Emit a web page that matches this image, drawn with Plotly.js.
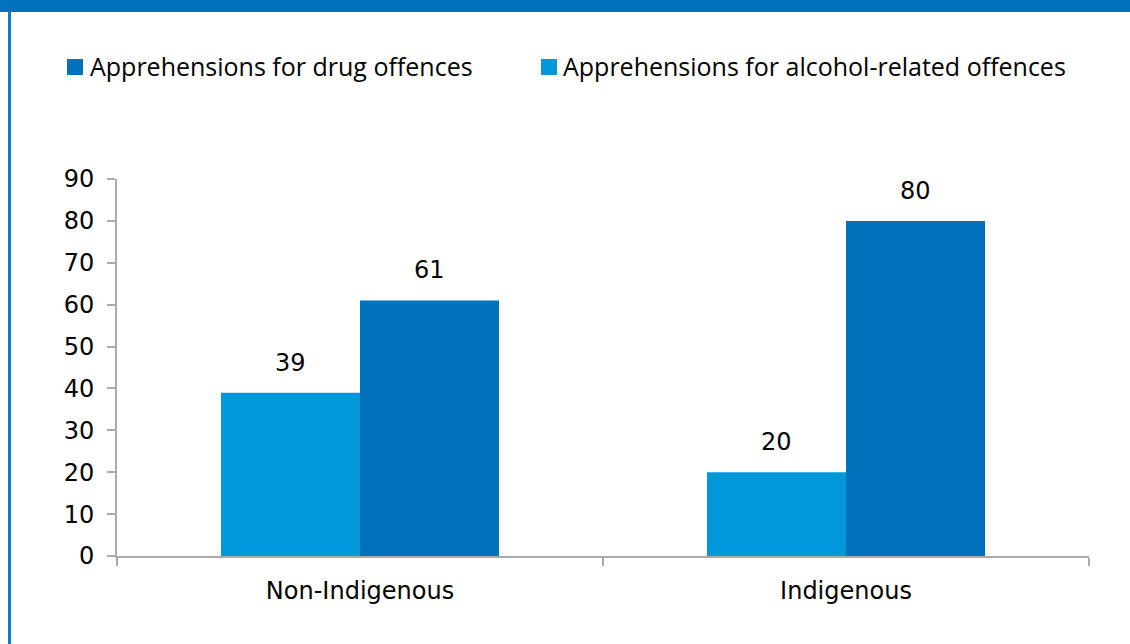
<!DOCTYPE html>
<html>
<head>
<meta charset="utf-8">
<script src="https://cdn.plot.ly/plotly-3.0.1.min.js"></script>
<style>
html,body{margin:0;padding:0;background:#fff;}
#chart{width:1130px;height:644px;}
</style>
</head>
<body>
<div id="chart"></div>
<script>
const categories = ["Non-Indigenous", "Indigenous"];
const alcoholValues = [39, 20];
const drugValues = [61, 80];
const seriesNames = ["Apprehensions for alcohol-related offences", "Apprehensions for drug offences"];
const yTicks = [0, 10, 20, 30, 40, 50, 60, 70, 80, 90];

const colAlcohol = "#0098D8";
const colDrug = "#0071BA";
const frame = "#0071BC";
const numFont = {family: "DejaVu Sans, sans-serif", size: 24, color: "#000"};
const legFont = {family: "Open Sans, sans-serif", size: 25, color: "#000"};

const traces = [
  {type: "bar", name: seriesNames[0], x: categories, y: alcoholValues,
   marker: {color: colAlcohol, line: {width: 0}}, hoverinfo: "none", showlegend: false},
  {type: "bar", name: seriesNames[1], x: categories, y: drugValues,
   marker: {color: colDrug, line: {width: 0}}, hoverinfo: "none", showlegend: false}
];

const W = 1130, H = 644, L = 117, R = 41, T = 179, B = 88;
const pw = W - L - R, ph = H - T - B;
function px(x) { return (x - L) / pw; }
function py(y) { return (H - B - y) / ph; }

const annotations = [];
categories.forEach((c, i) => {
  annotations.push({x: c, y: alcoholValues[i], xref: "x", yref: "y", text: String(alcoholValues[i]),
    showarrow: false, yanchor: "bottom", xshift: -69.5, yshift: 14, font: numFont});
  annotations.push({x: c, y: drugValues[i], xref: "x", yref: "y", text: String(drugValues[i]),
    showarrow: false, yanchor: "bottom", xshift: 69.5, yshift: 14, font: numFont});
});

// manual legend: drug first, then alcohol
const legendItems = [
  {name: seriesNames[1], color: colDrug, sx: 67, tx: 88},
  {name: seriesNames[0], color: colAlcohol, sx: 541, tx: 561}
];
const shapes = [
  {type: "rect", xref: "paper", yref: "paper", x0: px(0), x1: px(W), y0: py(0), y1: py(12),
   fillcolor: frame, line: {width: 0}, layer: "above"},
  {type: "rect", xref: "paper", yref: "paper", x0: px(8), x1: px(11), y0: py(12), y1: py(H),
   fillcolor: "#0A7CC6", line: {width: 0}, layer: "above"}
];
legendItems.forEach(it => {
  shapes.push({type: "rect", xref: "paper", yref: "paper", x0: px(it.sx), x1: px(it.sx + 16),
    y0: py(75), y1: py(59), fillcolor: it.color, line: {width: 0}});
  annotations.push({xref: "paper", yref: "paper", x: px(it.tx), y: py(66), xanchor: "left",
    yanchor: "middle", text: it.name, showarrow: false, font: legFont});
});

const layout = {
  width: W, height: H,
  margin: {l: L, r: R, t: T, b: B, pad: 0},
  paper_bgcolor: "#fff", plot_bgcolor: "#fff",
  barmode: "group", bargap: 0.428, bargroupgap: 0,
  showlegend: false,
  xaxis: {type: "category", showline: true, linecolor: "#aaaaaa", linewidth: 2,
    ticks: "outside", tickson: "boundaries", ticklen: 8, tickcolor: "#aaaaaa", tickwidth: 2,
    ticklabelstandoff: 12, tickfont: numFont,
    showgrid: false, zeroline: false, fixedrange: true},
  yaxis: {range: [0, 90], tickvals: yTicks, showline: true, linecolor: "#aaaaaa", linewidth: 2,
    ticks: "outside", ticklen: 8, tickcolor: "#aaaaaa", tickwidth: 2,
    ticklabelstandoff: 8, tickfont: numFont,
    showgrid: false, zeroline: false, fixedrange: true},
  annotations: annotations,
  shapes: shapes
};

Plotly.newPlot("chart", traces, layout, {displayModeBar: false, staticPlot: true});
</script>
</body>
</html>
